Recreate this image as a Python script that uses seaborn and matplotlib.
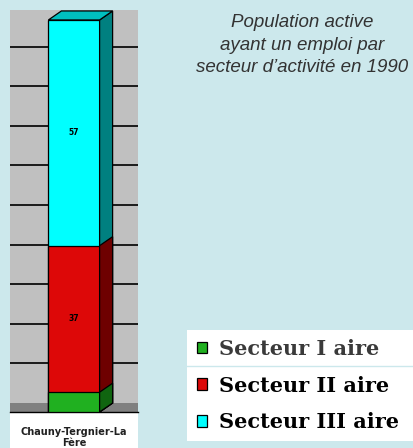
import numpy as np
import pandas as pd
import matplotlib
matplotlib.use("Agg")
import matplotlib.pyplot as plt
from matplotlib.patches import Polygon, Rectangle, Patch
from matplotlib.lines import Line2D
from matplotlib.font_manager import FontProperties
import seaborn as sns

# --- data -----------------------------------------------------------------
categories = ["Chauny-Tergnier-La Fère"]
tick_labels = ["Chauny-Tergnier-La\nFère"]
secteur_1 = [5]
secteur_2 = [37]
secteur_3 = [57]
series_labels = ["Secteur I aire", "Secteur II aire", "Secteur III aire"]
title_text = "Population active\nayant un emploi par\nsecteur d\u2019activité en 1990"

# --- styling --------------------------------------------------------------
BG = "#CCE8EC"
WALL = "#C0C0C0"
FLOOR = "#808080"
front_colors = ["#20B020", "#DD0808", "#00FFFF"]
side_colors = ["#106510", "#6E0000", "#008080"]
top_color = "#00C0C0"

W, H = 413, 448
fig = plt.figure(figsize=(W / 100, H / 100), dpi=100, facecolor=BG)

# plot panel: x 10..138 px, y 10..412 px (from top)
ax = fig.add_axes([10 / W, (H - 412) / H, 128 / W, 402 / H])
ax.set_facecolor(WALL)

px_per_unit_y = 3.96
ymax = 402 / px_per_unit_y
dx = 13 / 128            # depth offset in x data units
dy = 9 / px_per_unit_y   # depth offset in y data units

df = pd.DataFrame({
    "commune": categories * 3,
    "serie": np.repeat(series_labels, len(categories)),
    "valeur": secteur_1 + secteur_2 + secteur_3,
})
df["cumul"] = df.groupby("commune")["valeur"].cumsum()
df["base"] = df["cumul"] - df["valeur"]

# stacked bars: draw cumulative totals from the top segment down
bar_w = 0.4
for i in reversed(range(len(series_labels))):
    sub = df[df["serie"] == series_labels[i]]
    n_before = len(ax.patches)
    sns.barplot(data=sub, x="commune", y="cumul", color=front_colors[i],
                saturation=1, width=bar_w, edgecolor="black", linewidth=0.9,
                errorbar=None, ax=ax, zorder=3)
    for p in ax.patches[n_before:]:
        x0, y0 = p.get_x(), p.get_y()
        x1, y1 = x0 + p.get_width(), y0 + p.get_height()
        side = Polygon([(x1, y0), (x1 + dx, y0 + dy), (x1 + dx, y1 + dy), (x1, y1)],
                       closed=True, facecolor=side_colors[i], edgecolor="black",
                       linewidth=0.9, zorder=3)
        ax.add_patch(side)
        if i == len(series_labels) - 1:
            top = Polygon([(x0, y1), (x0 + dx, y1 + dy), (x1 + dx, y1 + dy), (x1, y1)],
                          closed=True, facecolor=top_color, edgecolor="black",
                          linewidth=0.9, zorder=3)
            ax.add_patch(top)

# value labels in the middle of the two large segments
for i in (1, 2):
    sub = df[df["serie"] == series_labels[i]]
    for xi, (_, row) in enumerate(sub.iterrows()):
        ax.text(xi, row["base"] + row["valeur"] / 2, f"{row['valeur']}",
                ha="center", va="center", fontsize=5.5, fontweight="bold",
                color="black", zorder=5)

ax.set_xlim(-0.5, 0.5)
ax.set_ylim(0, ymax)

# floor and back-wall gridlines
ax.add_patch(Rectangle((-0.5, 0), 1.0, dy, facecolor=FLOOR, edgecolor="none", zorder=1))
for v in range(10, 100, 10):
    ax.axhline(v + dy, color="#1a1a1a", linewidth=1.4, zorder=2)

for s in ("top", "left", "right"):
    ax.spines[s].set_visible(False)
ax.spines["bottom"].set_color("black")
ax.spines["bottom"].set_linewidth(1.0)
ax.set_yticks([])
ax.set_xticks(range(len(categories)))
ax.set_xticklabels(tick_labels, fontsize=7, fontweight="bold", color="#202020",
                   linespacing=1.1)
ax.tick_params(axis="x", length=0, pad=11)
ax.set_xlabel("")
ax.set_ylabel("")

# white strip behind the category label
fig.patches.append(Rectangle((10 / W, 0), 128 / W, (H - 412) / H, transform=fig.transFigure,
                             facecolor="white", edgecolor="none", zorder=-1))

# title
fig.text(302 / W, (H - 45) / H, title_text, ha="center", va="center",
         fontstyle="italic", family="Liberation Sans", fontsize=13.5,
         color="#333333", linespacing=1.42)

# legend panel
fig.patches.append(Rectangle((187 / W, (H - 441) / H), (W - 187) / W, 111 / H,
                             transform=fig.transFigure, facecolor="white",
                             edgecolor="none", zorder=-1))
fig.lines.append(Line2D([187 / W, 1.0], [(H - 366) / H] * 2, transform=fig.transFigure,
                        color=BG, linewidth=1.0))
handles = [Patch(facecolor=c, edgecolor="black", linewidth=0.9) for c in front_colors]
leg = fig.legend(handles, series_labels, loc="upper left",
                 bbox_to_anchor=(197 / W, (H - 339) / H), frameon=False,
                 prop=FontProperties(family="DejaVu Serif", weight="bold", size=15),
                 handlelength=0.48, handleheight=0.48, handletextpad=0.58,
                 labelspacing=0.8, borderpad=0, borderaxespad=0)
leg.get_texts()[0].set_color("#3a3a3a")

fig.savefig("out.png", dpi=100, facecolor=BG)
